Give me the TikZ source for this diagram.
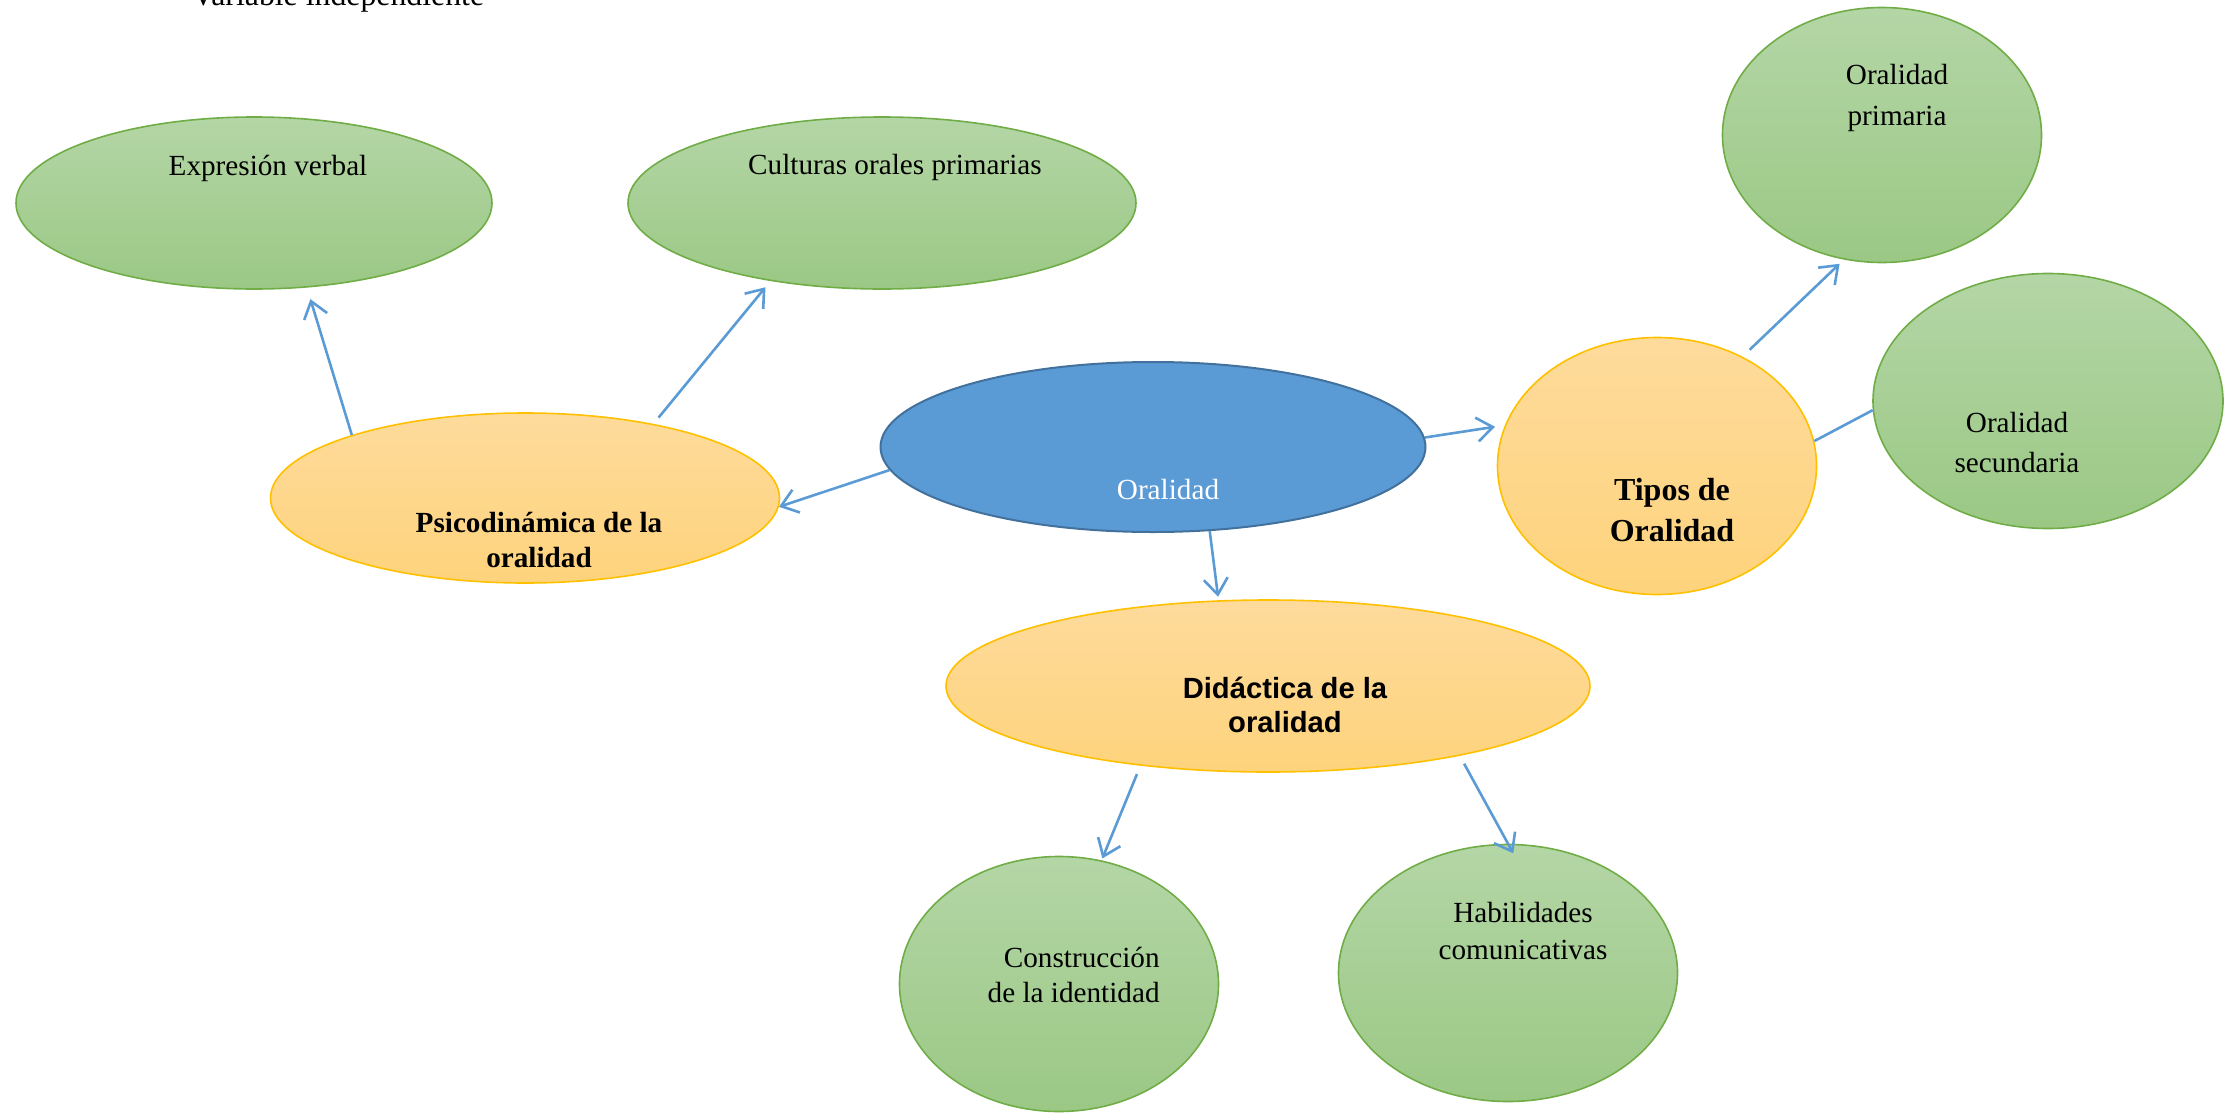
\documentclass[tikz,border=0pt]{standalone}
\usepackage{fontspec}
\setmainfont{Liberation Serif}
\newfontfamily\arialfont{Liberation Sans}
\usepackage{xcolor}
\usetikzlibrary{shapes.geometric, arrows.meta, positioning}

\definecolor{leaftop}{HTML}{B4D6A6}
\definecolor{leafbot}{HTML}{9BC885}
\definecolor{leafline}{HTML}{70AD47}
\definecolor{branchtop}{HTML}{FEDB9C}
\definecolor{branchbot}{HTML}{FED37C}
\definecolor{branchline}{HTML}{FFC000}
\definecolor{rootfill}{HTML}{5B9BD5}
\definecolor{rootline}{HTML}{41719C}
\definecolor{arrowblue}{HTML}{5B9BD5}

\begin{document}
\begin{tikzpicture}[x=0.5pt, y=-0.5pt,
        leaf/.style={ellipse, draw=leafline, line width=0.8pt, top color=leaftop, bottom color=leafbot, inner sep=0pt},
        branch/.style={ellipse, draw=branchline, line width=0.8pt, top color=branchtop, bottom color=branchbot, inner sep=0pt},
        root/.style={ellipse, draw=rootline, line width=1pt, fill=rootfill, inner sep=0pt},
        txt/.style={inner sep=0pt, align=center, yshift=-1pt, font=\fontsize{14.6}{17.7}\selectfont},
        arrow/.style={draw=arrowblue, line width=1.3pt, -{Straight Barb[length=8pt,width=12pt]}},
        link/.style={draw=arrowblue, line width=1.3pt}
    ]
        \useasboundingbox (0,0) rectangle (2224,1114);

        \node[txt, anchor=base, yshift=1pt, font=\fontsize{15.9}{19}\selectfont] (title) at (338,5) {Variable independiente};

        \node[leaf, minimum width=238pt, minimum height=86pt] (expr) at (254,203) {};
        \node[leaf, minimum width=254pt, minimum height=86pt] (cult) at (882,203) {};
        \node[leaf, minimum width=159.5pt, minimum height=127.5pt] (prim) at (1882,135) {};
        \node[leaf, minimum width=175pt, minimum height=127.5pt] (secu) at (2048,401) {};
        \node[root, minimum width=272.5pt, minimum height=85pt] (oral) at (1153,447) {};
        \node[branch, minimum width=159.5pt, minimum height=128.5pt] (tipos) at (1657,466) {};
        \node[branch, minimum width=254.5pt, minimum height=85pt] (psico) at (525,498) {};
        \node[branch, minimum width=322pt, minimum height=86pt] (didac) at (1268,686) {};
        \node[leaf, minimum width=159.5pt, minimum height=127.5pt] (constr) at (1059,984) {};
        \node[leaf, minimum width=169.5pt, minimum height=128.5pt] (habil) at (1508,973) {};

        \node[txt] (exprT) at (268,166) {Expresión verbal};
        \node[txt] (cultT) at (895,165) {Culturas orales primarias};
        \node[txt, font=\fontsize{14.6}{20.5}\selectfont] (primT) at (1897,96) {Oralidad\\primaria};
        \node[txt, font=\fontsize{14.6}{20}\selectfont] (secuT) at (2017,441) {Oralidad\\secundaria};
        \node[txt, text=white] (oralT) at (1168,488) {Oralidad};
        \node[txt, font=\fontsize{16}{20.5}\selectfont\bfseries] (tiposT) at (1672,508) {Tipos de\\Oralidad};
        \node[txt, font=\fontsize{14.6}{17.7}\selectfont\bfseries] (psicoT) at (539,538) {Psicodinámica de la\\oralidad};
        \node[txt, font=\fontsize{14.6}{17}\selectfont\arialfont\bfseries] (didacT) at (1285,703) {Didáctica de la\\oralidad};
        \node[txt, align=right, anchor=east] (constrT) at (1160,973) {Construcción\\de la identidad};
        \node[txt, font=\fontsize{14.6}{18.4}\selectfont] (habilT) at (1523,929) {Habilidades\\comunicativas};

        \draw[arrow, shorten >=6pt] (psico.160) -- (expr.-58);
        \draw[arrow, shorten <=4pt, shorten >=4pt] (psico.30) -- (cult.-145);
        \draw[arrow] (oral.185) -- (psico.-2);
        \draw[arrow, shorten >=5pt] (oral.2) -- (tipos.165);
        \draw[arrow, shorten >=1.75pt] (oral.-56) -- (didac.120);
        \draw[arrow, shorten <=5pt, shorten >=3pt] (tipos.52) -- (prim.-107);
        \draw[link] (tipos.9) -- (secu.183);
        \draw[arrow, shorten <=4.5pt, shorten >=1pt] (didac.-148) -- (constr.71);
        \draw[arrow, shorten <=4.5pt, shorten >=-5.5pt] (didac.-20) -- (habil.90);
    \end{tikzpicture}
\end{document}
